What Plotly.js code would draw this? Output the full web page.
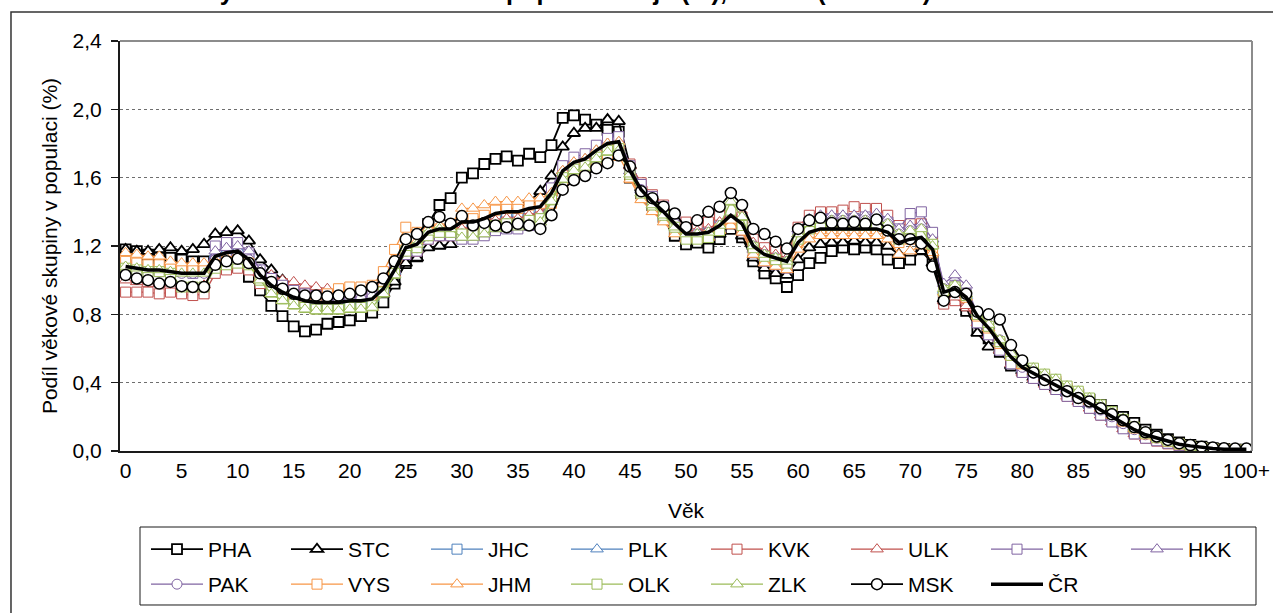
<!DOCTYPE html>
<html>
<head>
<meta charset="utf-8">
<script src="https://cdn.plot.ly/plotly-3.0.1.min.js"></script>
<style>html,body{margin:0;padding:0;background:#fff;}#chart{width:1273px;height:613px;}</style>
</head>
<body>
<div id="chart"></div>
<script>
const ages = ['0','1','2','3','4','5','6','7','8','9','10','11','12','13','14','15','16','17','18','19','20','21','22','23','24','25','26','27','28','29','30','31','32','33','34','35','36','37','38','39','40','41','42','43','44','45','46','47','48','49','50','51','52','53','54','55','56','57','58','59','60','61','62','63','64','65','66','67','68','69','70','71','72','73','74','75','76','77','78','79','80','81','82','83','84','85','86','87','88','89','90','91','92','93','94','95','96','97','98','99','100+'];
const xTickLabels = ['0','5','10','15','20','25','30','35','40','45','50','55','60','65','70','75','80','85','90','95','100+'];
const yTickValues = [0, 0.4, 0.8, 1.2, 1.6, 2.0, 2.4];

const PHA = [1.18,1.17,1.15,1.13,1.13,1.12,1.11,1.11,1.10,1.10,
 1.08,1.02,0.94,0.85,0.79,0.73,0.70,0.71,0.745,0.755,
 0.765,0.79,0.81,0.87,0.98,1.10,1.14,1.33,1.44,1.48,
 1.60,1.625,1.68,1.71,1.725,1.70,1.74,1.72,1.79,1.95,
 1.965,1.94,1.91,1.88,1.87,1.60,1.51,1.44,1.37,1.26,
 1.21,1.22,1.19,1.24,1.30,1.25,1.11,1.04,1.01,0.96,
 1.03,1.10,1.13,1.17,1.19,1.18,1.19,1.18,1.12,1.10,
 1.12,1.18,1.12,0.89,0.89,0.82,0.72,0.66,0.58,0.50,
 0.47,0.44,0.41,0.38,0.35,0.33,0.30,0.27,0.235,0.20,
 0.165,0.125,0.095,0.07,0.05,0.036,0.025,0.017,0.012,0.008,0.008];
const STC = [1.18,1.17,1.17,1.18,1.19,1.17,1.18,1.21,1.27,1.28,
 1.29,1.23,1.12,1.06,1.00,0.95,0.92,0.90,0.89,0.88,
 0.88,0.88,0.89,0.92,0.99,1.10,1.13,1.19,1.20,1.21,
 1.29,1.33,1.35,1.37,1.38,1.41,1.46,1.52,1.61,1.78,
 1.86,1.89,1.89,1.94,1.93,1.67,1.54,1.46,1.40,1.32,
 1.25,1.24,1.23,1.27,1.32,1.26,1.13,1.07,1.04,1.03,
 1.12,1.19,1.21,1.22,1.22,1.23,1.22,1.22,1.20,1.15,
 1.16,1.17,1.10,0.89,0.93,0.84,0.69,0.61,0.59,0.50,
 0.47,0.43,0.40,0.37,0.34,0.31,0.27,0.23,0.195,0.155,
 0.12,0.09,0.07,0.05,0.036,0.026,0.018,0.012,0.008,0.006,0.006];
const JHC = [1.10,1.09,1.08,1.08,1.07,1.06,1.06,1.06,1.12,1.14,
 1.15,1.12,1.03,0.95,0.91,0.88,0.86,0.85,0.85,0.86,
 0.86,0.87,0.87,0.95,1.06,1.17,1.19,1.26,1.28,1.27,
 1.31,1.31,1.33,1.36,1.37,1.37,1.39,1.40,1.48,1.61,
 1.66,1.68,1.73,1.77,1.78,1.65,1.54,1.47,1.41,1.34,
 1.28,1.28,1.29,1.33,1.36,1.33,1.20,1.15,1.13,1.11,
 1.28,1.34,1.37,1.36,1.36,1.36,1.35,1.36,1.34,1.28,
 1.30,1.31,1.23,0.93,0.95,0.90,0.79,0.72,0.63,0.55,
 0.50,0.465,0.43,0.40,0.36,0.33,0.29,0.25,0.21,0.17,
 0.13,0.10,0.075,0.055,0.04,0.03,0.02,0.014,0.01,0.007,0.008];
const PLK = [1.08,1.08,1.07,1.06,1.06,1.05,1.04,1.05,1.15,1.17,
 1.18,1.13,1.04,0.97,0.93,0.90,0.88,0.87,0.86,0.87,
 0.88,0.88,0.89,0.94,1.05,1.18,1.20,1.27,1.29,1.29,
 1.35,1.35,1.37,1.40,1.41,1.41,1.43,1.44,1.51,1.64,
 1.69,1.71,1.76,1.80,1.81,1.64,1.53,1.46,1.40,1.33,
 1.27,1.27,1.28,1.32,1.38,1.33,1.20,1.15,1.13,1.11,
 1.26,1.32,1.34,1.34,1.34,1.34,1.34,1.34,1.32,1.26,
 1.28,1.29,1.21,0.94,0.96,0.91,0.80,0.73,0.64,0.56,
 0.48,0.445,0.41,0.38,0.34,0.31,0.27,0.23,0.19,0.15,
 0.12,0.09,0.07,0.05,0.037,0.027,0.018,0.013,0.009,0.007,0.008];
const KVK = [0.93,0.93,0.93,0.92,0.93,0.92,0.91,0.92,1.04,1.06,
 1.07,1.06,0.98,1.01,0.98,0.95,0.93,0.92,0.92,0.92,
 0.93,0.93,0.94,0.95,1.05,1.15,1.17,1.24,1.26,1.26,
 1.28,1.28,1.30,1.33,1.34,1.34,1.36,1.37,1.49,1.62,
 1.67,1.69,1.74,1.78,1.79,1.68,1.57,1.50,1.44,1.37,
 1.34,1.33,1.34,1.38,1.38,1.37,1.24,1.19,1.17,1.15,
 1.31,1.38,1.40,1.40,1.41,1.43,1.42,1.42,1.38,1.32,
 1.33,1.33,1.23,0.86,0.88,0.85,0.76,0.69,0.60,0.52,
 0.46,0.425,0.39,0.36,0.32,0.29,0.25,0.21,0.175,0.135,
 0.10,0.075,0.058,0.042,0.03,0.022,0.015,0.011,0.008,0.006,0.007];
const ULK = [1.00,0.99,0.98,0.98,0.97,0.96,0.96,0.97,1.08,1.10,
 1.11,1.09,1.01,1.03,1.00,0.99,0.97,0.96,0.95,0.94,
 0.95,0.95,0.95,0.93,1.04,1.16,1.18,1.25,1.27,1.27,
 1.30,1.30,1.32,1.35,1.36,1.36,1.38,1.39,1.49,1.62,
 1.67,1.69,1.74,1.78,1.79,1.67,1.56,1.49,1.43,1.36,
 1.29,1.29,1.30,1.34,1.40,1.35,1.22,1.17,1.15,1.13,
 1.27,1.33,1.35,1.35,1.35,1.35,1.35,1.35,1.33,1.27,
 1.29,1.30,1.21,0.88,0.90,0.85,0.75,0.68,0.59,0.51,
 0.46,0.425,0.39,0.36,0.32,0.29,0.25,0.21,0.17,0.13,
 0.10,0.075,0.058,0.042,0.03,0.022,0.015,0.011,0.008,0.006,0.007];
const LBK = [1.07,1.07,1.06,1.05,1.05,1.05,1.04,1.05,1.20,1.22,
 1.22,1.16,1.06,1.01,0.97,0.94,0.92,0.91,0.91,0.91,
 0.92,0.92,0.93,0.95,1.06,1.15,1.17,1.24,1.26,1.26,
 1.24,1.24,1.26,1.29,1.30,1.30,1.32,1.33,1.54,1.67,
 1.72,1.74,1.79,1.83,1.84,1.67,1.56,1.49,1.43,1.36,
 1.25,1.25,1.26,1.30,1.33,1.29,1.16,1.11,1.09,1.07,
 1.27,1.34,1.36,1.36,1.36,1.36,1.37,1.36,1.34,1.30,
 1.39,1.40,1.28,0.95,0.97,0.92,0.75,0.68,0.59,0.51,
 0.46,0.425,0.39,0.36,0.32,0.29,0.25,0.21,0.17,0.13,
 0.10,0.075,0.06,0.045,0.033,0.025,0.017,0.012,0.008,0.006,0.007];
const HKK = [1.09,1.08,1.07,1.07,1.06,1.05,1.05,1.05,1.17,1.19,
 1.20,1.17,1.06,0.99,0.95,0.92,0.90,0.89,0.89,0.89,
 0.90,0.90,0.91,0.95,1.06,1.16,1.18,1.25,1.27,1.27,
 1.25,1.25,1.27,1.30,1.31,1.31,1.33,1.34,1.51,1.64,
 1.69,1.71,1.76,1.80,1.81,1.64,1.53,1.46,1.40,1.33,
 1.25,1.25,1.26,1.30,1.36,1.31,1.18,1.13,1.11,1.09,
 1.30,1.36,1.38,1.38,1.38,1.38,1.38,1.39,1.36,1.30,
 1.32,1.33,1.24,0.98,1.03,0.97,0.80,0.73,0.64,0.56,
 0.49,0.455,0.42,0.39,0.35,0.32,0.28,0.24,0.20,0.16,
 0.125,0.095,0.075,0.055,0.04,0.03,0.02,0.015,0.01,0.008,0.01];
const PAK = [1.08,1.07,1.06,1.05,1.05,1.04,1.04,1.04,1.12,1.14,
 1.15,1.12,1.03,0.98,0.94,0.91,0.89,0.88,0.88,0.88,
 0.89,0.89,0.90,0.95,1.06,1.17,1.19,1.26,1.28,1.28,
 1.27,1.27,1.29,1.32,1.33,1.33,1.35,1.36,1.49,1.62,
 1.67,1.69,1.74,1.78,1.79,1.64,1.53,1.46,1.40,1.33,
 1.27,1.27,1.28,1.32,1.38,1.33,1.20,1.15,1.13,1.11,
 1.27,1.33,1.35,1.35,1.35,1.35,1.35,1.35,1.33,1.27,
 1.29,1.30,1.20,0.95,0.97,0.92,0.81,0.74,0.65,0.57,
 0.49,0.455,0.42,0.39,0.35,0.32,0.28,0.24,0.20,0.16,
 0.125,0.095,0.075,0.055,0.04,0.03,0.02,0.015,0.01,0.008,0.01];
const VYS = [1.11,1.10,1.09,1.09,1.08,1.07,1.07,1.07,1.09,1.11,
 1.12,1.10,1.01,0.97,0.93,0.90,0.89,0.90,0.92,0.95,
 0.96,0.96,0.97,1.05,1.18,1.31,1.28,1.28,1.30,1.30,
 1.36,1.36,1.38,1.41,1.42,1.42,1.44,1.45,1.45,1.56,
 1.60,1.63,1.68,1.72,1.73,1.60,1.49,1.42,1.36,1.29,
 1.25,1.25,1.26,1.30,1.33,1.30,1.17,1.12,1.10,1.08,
 1.22,1.28,1.30,1.30,1.30,1.30,1.30,1.30,1.28,1.22,
 1.24,1.25,1.16,0.93,0.95,0.90,0.79,0.72,0.63,0.56,
 0.51,0.475,0.44,0.41,0.37,0.34,0.30,0.26,0.22,0.175,
 0.135,0.10,0.078,0.057,0.041,0.03,0.02,0.014,0.01,0.007,0.008];
const JHM = [1.16,1.15,1.14,1.14,1.11,1.10,1.10,1.10,1.11,1.13,
 1.14,1.09,1.00,0.92,0.88,0.85,0.83,0.82,0.82,0.82,
 0.83,0.83,0.84,0.98,1.12,1.21,1.23,1.30,1.32,1.32,
 1.42,1.42,1.44,1.46,1.46,1.46,1.48,1.48,1.51,1.64,
 1.69,1.71,1.76,1.80,1.81,1.59,1.47,1.40,1.34,1.27,
 1.24,1.24,1.25,1.29,1.35,1.28,1.15,1.10,1.08,1.06,
 1.18,1.24,1.26,1.26,1.26,1.26,1.26,1.26,1.24,1.15,
 1.17,1.20,1.16,0.93,0.95,0.90,0.79,0.72,0.63,0.55,
 0.50,0.465,0.43,0.40,0.36,0.33,0.29,0.25,0.21,0.17,
 0.13,0.098,0.077,0.056,0.04,0.03,0.02,0.014,0.01,0.007,0.008];
const OLK = [1.07,1.06,1.05,1.05,1.04,0.96,0.96,0.96,1.07,1.09,
 1.10,1.09,1.00,0.93,0.89,0.86,0.84,0.83,0.83,0.83,
 0.84,0.84,0.85,0.93,1.04,1.17,1.19,1.26,1.28,1.28,
 1.27,1.27,1.29,1.32,1.33,1.33,1.35,1.36,1.47,1.60,
 1.65,1.67,1.72,1.76,1.77,1.62,1.51,1.44,1.38,1.31,
 1.24,1.24,1.25,1.29,1.41,1.32,1.19,1.14,1.12,1.10,
 1.24,1.30,1.32,1.32,1.32,1.32,1.32,1.32,1.30,1.24,
 1.26,1.27,1.21,0.94,0.96,0.91,0.80,0.73,0.64,0.56,
 0.52,0.485,0.45,0.42,0.38,0.35,0.31,0.27,0.23,0.185,
 0.14,0.105,0.08,0.058,0.042,0.03,0.02,0.014,0.01,0.007,0.008];
const ZLK = [1.08,1.07,1.06,1.06,1.05,1.04,1.04,1.04,1.08,1.10,
 1.11,1.09,1.00,0.92,0.88,0.85,0.83,0.82,0.82,0.82,
 0.83,0.83,0.84,0.92,1.03,1.19,1.21,1.28,1.30,1.30,
 1.25,1.25,1.27,1.30,1.31,1.31,1.33,1.34,1.46,1.59,
 1.64,1.66,1.71,1.75,1.76,1.62,1.51,1.44,1.38,1.31,
 1.27,1.27,1.28,1.32,1.46,1.37,1.20,1.15,1.13,1.11,
 1.27,1.33,1.35,1.35,1.35,1.35,1.35,1.35,1.33,1.27,
 1.29,1.30,1.20,0.95,0.97,0.92,0.81,0.74,0.65,0.57,
 0.52,0.485,0.45,0.42,0.38,0.35,0.31,0.27,0.23,0.19,
 0.14,0.105,0.08,0.058,0.042,0.03,0.02,0.014,0.01,0.007,0.008];
const MSK = [1.03,1.01,1.00,0.98,0.99,0.965,0.96,0.96,1.09,1.11,
 1.125,1.10,1.04,0.99,0.95,0.92,0.91,0.91,0.905,0.91,
 0.92,0.94,0.96,1.01,1.11,1.24,1.27,1.34,1.37,1.33,
 1.375,1.32,1.335,1.32,1.31,1.33,1.32,1.30,1.38,1.53,
 1.585,1.61,1.655,1.685,1.73,1.665,1.52,1.48,1.43,1.39,
 1.31,1.35,1.40,1.43,1.51,1.44,1.30,1.27,1.225,1.185,
 1.30,1.35,1.365,1.335,1.33,1.34,1.33,1.355,1.29,1.24,
 1.24,1.215,1.08,0.88,0.93,0.92,0.815,0.80,0.77,0.62,
 0.53,0.46,0.415,0.385,0.35,0.31,0.29,0.25,0.215,0.18,
 0.14,0.11,0.085,0.065,0.045,0.035,0.025,0.02,0.016,0.014,0.014];
const CR = [1.08,1.07,1.06,1.06,1.05,1.04,1.04,1.04,1.14,1.16,
 1.17,1.12,1.03,0.97,0.93,0.90,0.88,0.87,0.87,0.87,
 0.88,0.88,0.89,0.95,1.06,1.19,1.21,1.28,1.30,1.30,
 1.34,1.34,1.36,1.39,1.40,1.40,1.42,1.43,1.51,1.64,
 1.69,1.71,1.76,1.80,1.81,1.64,1.53,1.46,1.40,1.33,
 1.27,1.27,1.28,1.32,1.38,1.33,1.20,1.15,1.13,1.11,
 1.22,1.28,1.30,1.30,1.30,1.30,1.30,1.30,1.28,1.22,
 1.24,1.25,1.18,0.93,0.95,0.90,0.79,0.72,0.63,0.55,
 0.49,0.455,0.42,0.39,0.35,0.32,0.28,0.24,0.20,0.16,
 0.125,0.095,0.075,0.055,0.04,0.03,0.02,0.015,0.01,0.008,0.01];

const BLUE = '#4F81BD', RED = '#C0504D', PURPLE = '#8064A2', ORANGE = '#F79646', GREEN = '#9BBB59', BLACK = '#000000';

function series(name, y, color, symbol, size, lw, mlw, legendId) {
  return {
    type: 'scatter', mode: 'lines+markers', name: name, x: ages, y: y, legend: legendId,
    line: {color: color, width: lw},
    marker: {symbol: symbol, size: size, color: '#ffffff', line: {color: color, width: mlw}}
  };
}

const data = [
  series('PHA', PHA, BLACK, 'square', 10, 1.8, 1.8, 'legend'),
  series('STC', STC, BLACK, 'triangle-up', 11, 1.8, 1.8, 'legend'),
  series('JHC', JHC, BLUE, 'square', 10, 1.3, 1, 'legend'),
  series('PLK', PLK, BLUE, 'triangle-up', 11, 1.3, 1, 'legend'),
  series('KVK', KVK, RED, 'square', 10, 1.3, 1, 'legend'),
  series('ULK', ULK, RED, 'triangle-up', 11, 1.3, 1, 'legend'),
  series('LBK', LBK, PURPLE, 'square', 10, 1.3, 1, 'legend'),
  series('HKK', HKK, PURPLE, 'triangle-up', 11, 1.3, 1, 'legend'),
  series('PAK', PAK, PURPLE, 'circle', 10, 1.3, 1, 'legend2'),
  series('VYS', VYS, ORANGE, 'square', 10, 1.3, 1, 'legend2'),
  series('JHM', JHM, ORANGE, 'triangle-up', 11, 1.3, 1, 'legend2'),
  series('OLK', OLK, GREEN, 'square', 10, 1.3, 1, 'legend2'),
  series('ZLK', ZLK, GREEN, 'triangle-up', 11, 1.3, 1, 'legend2'),
  series('MSK', MSK, BLACK, 'circle', 11, 1.8, 1.5, 'legend2'),
  {type: 'scatter', mode: 'lines', name: 'ČR', x: ages, y: CR, legend: 'legend2', line: {color: BLACK, width: 3.5}}
];

const legendCommon = {
  orientation: 'h', xref: 'container', yref: 'container', xanchor: 'left', yanchor: 'top',
  x: 146 / 1273, borderwidth: 0, bgcolor: 'rgba(0,0,0,0)',
  itemwidth: 52, entrywidth: 73, entrywidthmode: 'pixels', font: {size: 21}, traceorder: 'normal'
};

const layout = {
  width: 1273, height: 613,
  margin: {l: 120, r: 21, t: 41, b: 162, autoexpand: false},
  paper_bgcolor: '#ffffff', plot_bgcolor: '#ffffff',
  font: {family: 'Liberation Sans, Arial, sans-serif', color: '#000', size: 20},
  separators: ', ',
  showlegend: true,
  xaxis: {
    type: 'category', range: [-0.5, 100.5], tickmode: 'array', tickvals: xTickLabels, ticktext: xTickLabels,
    ticks: '', showgrid: false, zeroline: false, showline: true, linecolor: '#1a1a1a', linewidth: 2,
    tickfont: {size: 21}, title: {text: 'Věk', font: {size: 21}, standoff: 22}
  },
  yaxis: {
    range: [0, 2.4], tickmode: 'array', tickvals: yTickValues, tickformat: '.1f',
    ticks: 'outside', ticklen: 7, tickcolor: '#1a1a1a', tickwidth: 1.5,
    showgrid: true, gridcolor: '#6e6e6e', griddash: 'dot', gridwidth: 1,
    zeroline: false, showline: true, linecolor: '#1a1a1a', linewidth: 2,
    tickfont: {size: 21}, ticklabelstandoff: 5,
    title: {text: 'Podíl věkové skupiny v populaci (%)', font: {size: 21}, standoff: 9}
  },
  legend: Object.assign({}, legendCommon, {y: 1 - 529 / 613}),
  legend2: Object.assign({}, legendCommon, {y: 1 - 564 / 613}),
  shapes: [
    {type: 'rect', xref: 'paper', yref: 'paper', x0: -0.0963, x1: 1.2, y0: -0.6, y1: 1.0707,
     line: {color: '#333', width: 1.5}, fillcolor: 'rgba(0,0,0,0)', layer: 'below'},
    {type: 'rect', xref: 'paper', yref: 'paper', x0: 0.01767, x1: 1.00353, y0: -0.3756, y1: -0.1854,
     line: {color: '#1a1a1a', width: 1}, fillcolor: 'rgba(0,0,0,0)', layer: 'below'},
    {type: 'line', xref: 'paper', yref: 'paper', x0: 0, x1: 1, y0: 1, y1: 1, line: {color: '#8c8c8c', width: 2}},
    {type: 'line', xref: 'paper', yref: 'paper', x0: 1, x1: 1, y0: 0, y1: 1, line: {color: '#8c8c8c', width: 2}}
  ],
  annotations: [
    {xref: 'paper', yref: 'paper', x: 0.0557, y: 1, xanchor: 'left', yanchor: 'bottom', yshift: 34,
     showarrow: false, text: '<b>Obyvatelstvo – rozložení v populaci kraje (%), r. 2011 (k 31. 12.)</b>',
     font: {size: 25, color: '#000'}}
  ]
};

Plotly.newPlot('chart', data, layout, {displayModeBar: false, staticPlot: true});
</script>
</body>
</html>
